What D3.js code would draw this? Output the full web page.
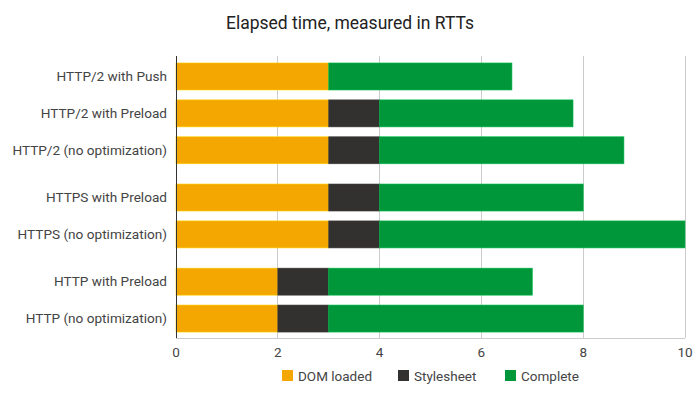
<!DOCTYPE html>
<html><head><meta charset="utf-8">
<script src="https://cdn.jsdelivr.net/npm/d3@7"></script>
<style>body{margin:0;background:#fff;font-family:Roboto,"Noto Sans",sans-serif;}</style>
</head><body><svg id="c" width="700" height="393"></svg>
<script>
const categories = ["HTTP/2 with Push","HTTP/2 with Preload","HTTP/2 (no optimization)","HTTPS with Preload","HTTPS (no optimization)","HTTP with Preload","HTTP (no optimization)"];
const groups = [0,0,0,1,1,2,2];
const domLoaded = [3,3,3,3,3,2,2];
const stylesheet = [0,1,1,1,1,1,1];
const complete = [3.6,3.8,4.8,4,6,4,5];
const seriesNames = ["DOM loaded","Stylesheet","Complete"];
const colors = ["#F4A700","#333030","#00963A"];
const xTicks = [0,2,4,6,8,10];

const svg = d3.select("#c");
const L = 176, R = 685, T = 56, B = 338;
const x = d3.scaleLinear().domain([0,10]).range([L,R]);
const slots = categories.map((c,i)=> i + groups[i]*0.28);
const y = d3.scaleLinear().domain([-0.555, 6.56+0.527]).range([T,B]);
const barH = 27;

svg.append("text").attr("x",350).attr("y",29).attr("text-anchor","middle")
  .attr("font-size",17.5).attr("fill","#222").text("Elapsed time, measured in RTTs");

// gridlines
const g = svg.append("g");
g.selectAll("line.grid").data(xTicks.slice(1)).join("line")
  .attr("x1",d=>x(d)).attr("x2",d=>x(d)).attr("y1",T).attr("y2",B)
  .attr("stroke","#ccc").attr("stroke-width",1).attr("shape-rendering","crispEdges");
g.append("line").attr("x1",L).attr("x2",R).attr("y1",B).attr("y2",B)
  .attr("stroke","#ccc").attr("shape-rendering","crispEdges");

// stacked
const stackData = categories.map((c,i)=>({key:c, i, s0:domLoaded[i], s1:stylesheet[i], s2:complete[i]}));
const stack = d3.stack().keys(["s0","s1","s2"])(stackData);
stack.forEach((layer,k)=>{
  svg.append("g").selectAll("rect").data(layer.filter(d=>d[1]>d[0])).join("rect")
    .attr("x",d=>x(d[0])).attr("width",d=>x(d[1])-x(d[0]))
    .attr("y",d=>y(slots[d.data.i])-barH/2).attr("height",barH)
    .attr("fill",colors[k]).attr("stroke",d3.color(colors[k]).brighter(0.6)).attr("stroke-width",0.6);
});

// left axis line
svg.append("line").attr("x1",L).attr("x2",L).attr("y1",T).attr("y2",B)
  .attr("stroke","#333").attr("stroke-width",1).attr("shape-rendering","crispEdges");

// category labels
svg.append("g").selectAll("text").data(categories).join("text")
  .attr("x",167).attr("y",(d,i)=>y(slots[i])+4.8).attr("text-anchor","end")
  .attr("font-size",13.6).attr("fill","#444").text(d=>d);

// x tick labels
svg.append("g").selectAll("text").data(xTicks).join("text")
  .attr("x",d=>x(d)).attr("y",356.5).attr("text-anchor","middle")
  .attr("font-size",13.5).attr("fill","#444").text(d=>d);

// legend
const legX = [282,398,505];
const lg = svg.append("g");
seriesNames.forEach((n,k)=>{
  lg.append("rect").attr("x",legX[k]).attr("y",370).attr("width",11).attr("height",11).attr("fill",colors[k]);
  lg.append("text").attr("x",legX[k]+16).attr("y",380.5).attr("font-size",13.5).attr("fill","#444").text(n);
});
</script></body></html>
